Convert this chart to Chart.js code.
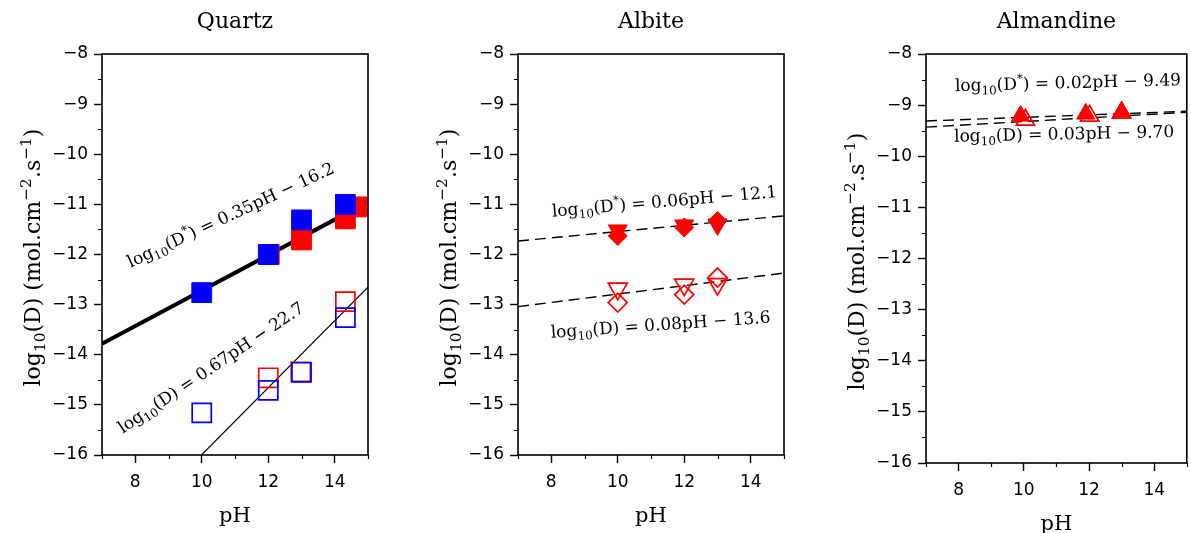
<!DOCTYPE html>
<html>
<head>
<meta charset="utf-8">
<script src="https://cdn.jsdelivr.net/npm/chart.js@4.4.1/dist/chart.umd.min.js"></script>
<style>
  html, body { margin: 0; padding: 0; background: #fff; overflow: hidden; width: 1191px; height: 533px; }
  canvas { position: absolute; top: 0; }
</style>
</head>
<body>
<canvas id="quartz" width="400" height="533" style="left:0px"></canvas>
<canvas id="albite" width="400" height="533" style="left:416px"></canvas>
<canvas id="almandine" width="375" height="533" style="left:824px"></canvas>
<script>
const BLACK = '#000000';
const RED = '#ff0000';
const BLUE = '#0000ff';
const SERIF = '"DejaVu Serif", serif';
const SANS = '"DejaVu Sans", sans-serif';

// axes
const PH_TICKS = [8, 10, 12, 14];
const PH_MINOR = [7, 9, 11, 13, 15];
const LOGD_TICKS = [-8, -9, -10, -11, -12, -13, -14, -15, -16];
const LOGD_MINOR = [-8.5, -9.5, -10.5, -11.5, -12.5, -13.5, -14.5, -15.5];
const FIT_PH = [7, 15];

// Quartz
const quartzStarBluePh = [10, 12, 13, 14.32];
const quartzStarBlue = [-12.76, -12.0, -11.31, -11.0];
const quartzStarRedPh = [12.03, 13, 14.32, 14.67];
const quartzStarRed = [-12.0, -11.71, -11.29, -11.05];
const quartzDBluePh = [10, 12, 13, 14.32];
const quartzDBlue = [-15.16, -14.71, -14.35, -13.26];
const quartzDRedPh = [12, 12.98, 14.32];
const quartzDRed = [-14.46, -14.34, -12.94];
const quartzFitStar = [-13.78, -10.95];
const quartzFitD = [-18.0, -12.65];

// Albite
const albitePh = [10, 12, 13];
const albiteStarTri = [-11.52, -11.42, -11.40];
const albiteStarDia = [-11.63, -11.46, -11.33];
const albiteDTri = [-12.68, -12.60, -12.59];
const albiteDDia = [-12.96, -12.80, -12.46];
const albiteFitStar = [-11.73, -11.23];
const albiteFitD = [-13.04, -12.37];

// Almandine
const almStarPh = [9.9, 11.9, 13.0];
const almStar = [-9.21, -9.17, -9.13];
const almDPh = [10.05, 12.02, 13.0];
const almD = [-9.29, -9.21, -9.15];
const almFitStar = [-9.31, -9.12];
const almFitD = [-9.43, -9.14];

const Y_TITLE = [['log', ''], ['10', 'sub'], ['(D) (mol.cm', ''], ['\u22122', 'sup'], ['.s', ''], ['\u22121', 'sup'], [')', '']];

function eqStar(rhs) {
  return [['log', ''], ['10', 'sub'], ['(D', ''], ['*', 'sup'], [') = ' + rhs, '']];
}
function eqD(rhs) {
  return [['log', ''], ['10', 'sub'], ['(D) = ' + rhs, '']];
}

function zip(xs, ys) {
  return xs.map((x, i) => ({ x, y: ys[i] }));
}

function fmtTick(v) {
  return (v < 0 ? '\u2212' : '') + Math.abs(v);
}

function richWidth(ctx, parts, size) {
  let w = 0;
  for (const [t, k] of parts) {
    ctx.font = `${k ? size * 0.7 : size}px ${SERIF}`;
    w += ctx.measureText(t).width;
  }
  return w;
}

function drawRich(ctx, parts, size, x, y, angle) {
  ctx.save();
  ctx.translate(x, y);
  ctx.rotate(angle * Math.PI / 180);
  ctx.textBaseline = 'alphabetic';
  ctx.textAlign = 'left';
  ctx.fillStyle = BLACK;
  let cx = -richWidth(ctx, parts, size) / 2;
  for (const [t, k] of parts) {
    const s = k ? size * 0.7 : size;
    ctx.font = `${s}px ${SERIF}`;
    const dy = k === 'sub' ? size * 0.24 : k === 'sup' ? -size * 0.42 : 0;
    ctx.fillText(t, cx, dy);
    cx += ctx.measureText(t).width;
  }
  ctx.restore();
}

const panelDecor = {
  id: 'panelDecor',
  afterDraw(chart, args, opts) {
    const { ctx, chartArea: a } = chart;
    const x = chart.scales.x, y = chart.scales.y;
    ctx.save();
    // minor ticks
    ctx.strokeStyle = BLACK;
    ctx.lineWidth = 1.2;
    ctx.beginPath();
    PH_MINOR.forEach(v => {
      const px = Math.round(x.getPixelForValue(v)) + 0.5;
      ctx.moveTo(px, a.bottom);
      ctx.lineTo(px, a.bottom + 4);
    });
    LOGD_MINOR.forEach(v => {
      const py = Math.round(y.getPixelForValue(v)) + 0.5;
      ctx.moveTo(a.left - 4, py);
      ctx.lineTo(a.left, py);
    });
    ctx.stroke();
    // frame
    ctx.lineWidth = 1.6;
    ctx.strokeRect(a.left, a.top, a.right - a.left, a.bottom - a.top);
    // titles
    ctx.fillStyle = BLACK;
    ctx.textAlign = 'center';
    ctx.textBaseline = 'alphabetic';
    ctx.font = `22px ${SERIF}`;
    ctx.fillText(opts.title, (a.left + a.right) / 2, a.top - 26);
    ctx.font = `21px ${SERIF}`;
    ctx.fillText('pH', (a.left + a.right) / 2, a.bottom + 67);
    drawRich(ctx, Y_TITLE, 22, a.left - 62, (a.top + a.bottom) / 2 + 3, -90);
    // fit equations
    opts.notes.forEach(n => {
      drawRich(ctx, n.parts, 17, x.getPixelForValue(n.ph), y.getPixelForValue(n.logD), n.angle);
    });
    ctx.restore();
  }
};

function points(data, style, color, filled, radius, order, rotation) {
  return {
    type: 'scatter',
    data,
    order,
    showLine: false,
    pointStyle: style,
    pointRadius: radius,
    pointHoverRadius: radius,
    pointRotation: rotation || 0,
    pointBackgroundColor: filled ? color : 'rgba(0,0,0,0)',
    pointBorderColor: color,
    pointBorderWidth: filled ? 1 : 1.7,
  };
}

function fit(ys, width, dashed) {
  return {
    type: 'line',
    data: zip(FIT_PH, ys),
    order: 10,
    borderColor: BLACK,
    borderWidth: width,
    borderDash: dashed ? [11, 6] : [],
    pointRadius: 0,
    fill: false,
  };
}

function makePanel(id, datasets, title, notes, xBoxHeight, rightPad) {
  return new Chart(document.getElementById(id), {
    type: 'scatter',
    data: { datasets },
    plugins: [panelDecor],
    options: {
      responsive: false,
      animation: false,
      devicePixelRatio: 1,
      layout: { padding: { top: 54, right: rightPad, bottom: 0, left: 0 } },
      plugins: {
        legend: { display: false },
        tooltip: { enabled: false },
        panelDecor: { title, notes },
      },
      scales: {
        x: {
          type: 'linear', min: 7, max: 15,
          afterBuildTicks: s => { s.ticks = PH_TICKS.map(v => ({ value: v })); },
          afterFit: s => { s.height = xBoxHeight; },
          border: { display: false },
          grid: { drawOnChartArea: false, drawTicks: true, tickLength: 8, tickWidth: 1.4, tickColor: BLACK },
          ticks: { color: BLACK, font: { family: SANS, size: 17 }, padding: 9, autoSkip: false, maxRotation: 0, callback: v => String(v) },
        },
        y: {
          type: 'linear', min: -16, max: -8,
          afterBuildTicks: s => { s.ticks = LOGD_TICKS.map(v => ({ value: v })); },
          afterFit: s => { s.width = 102; },
          border: { display: false },
          grid: { drawOnChartArea: false, drawTicks: true, tickLength: 8, tickWidth: 1.4, tickColor: BLACK },
          ticks: { color: BLACK, font: { family: SANS, size: 17 }, padding: 6, autoSkip: false, callback: v => fmtTick(v) },
        },
      },
    },
  });
}

makePanel('quartz', [
  points(zip(quartzStarBluePh, quartzStarBlue), 'rect', BLUE, true, 14, 0),
  points(zip(quartzStarRedPh, quartzStarRed), 'rect', RED, true, 14, 1),
  points(zip(quartzDBluePh, quartzDBlue), 'rect', BLUE, false, 13.5, 2),
  points(zip(quartzDRedPh, quartzDRed), 'rect', RED, false, 13.5, 3),
  fit(quartzFitStar, 4, false),
  fit(quartzFitD, 1.2, false),
], 'Quartz', [
  { parts: eqStar('0.35pH \u2212 16.2'), ph: 10.94, logD: -11.31, angle: -25 },
  { parts: eqD('0.67pH \u2212 22.7'), ph: 10.37, logD: -14.35, angle: -34 },
], 78, 32);

makePanel('albite', [
  points(zip(albitePh, albiteStarDia), 'rectRot', RED, true, 9.5, 0),
  points(zip(albitePh, albiteStarTri), 'triangle', RED, true, 11, 1, 180),
  points(zip(albitePh, albiteDDia), 'rectRot', RED, false, 9.5, 2),
  points(zip(albitePh, albiteDTri), 'triangle', RED, false, 11, 3, 180),
  fit(albiteFitStar, 1.4, true),
  fit(albiteFitD, 1.4, true),
], 'Albite', [
  { parts: eqStar('0.06pH \u2212 12.1'), ph: 11.42, logD: -11.05, angle: -5 },
  { parts: eqD('0.08pH \u2212 13.6'), ph: 11.30, logD: -13.51, angle: -4 },
], 78, 32);

makePanel('almandine', [
  points(zip(almStarPh, almStar), 'triangle', RED, true, 10.5, 0),
  points(zip(almDPh, almD), 'triangle', RED, false, 10.5, 1),
  fit(almFitStar, 1.4, true),
  fit(almFitD, 1.4, true),
], 'Almandine', [
  { parts: eqStar('0.02pH \u2212 9.49'), ph: 11.36, logD: -8.67, angle: -1.5 },
  { parts: eqD('0.03pH \u2212 9.70'), ph: 11.24, logD: -9.67, angle: -1.2 },
], 70, 0);
</script>
</body>
</html>
